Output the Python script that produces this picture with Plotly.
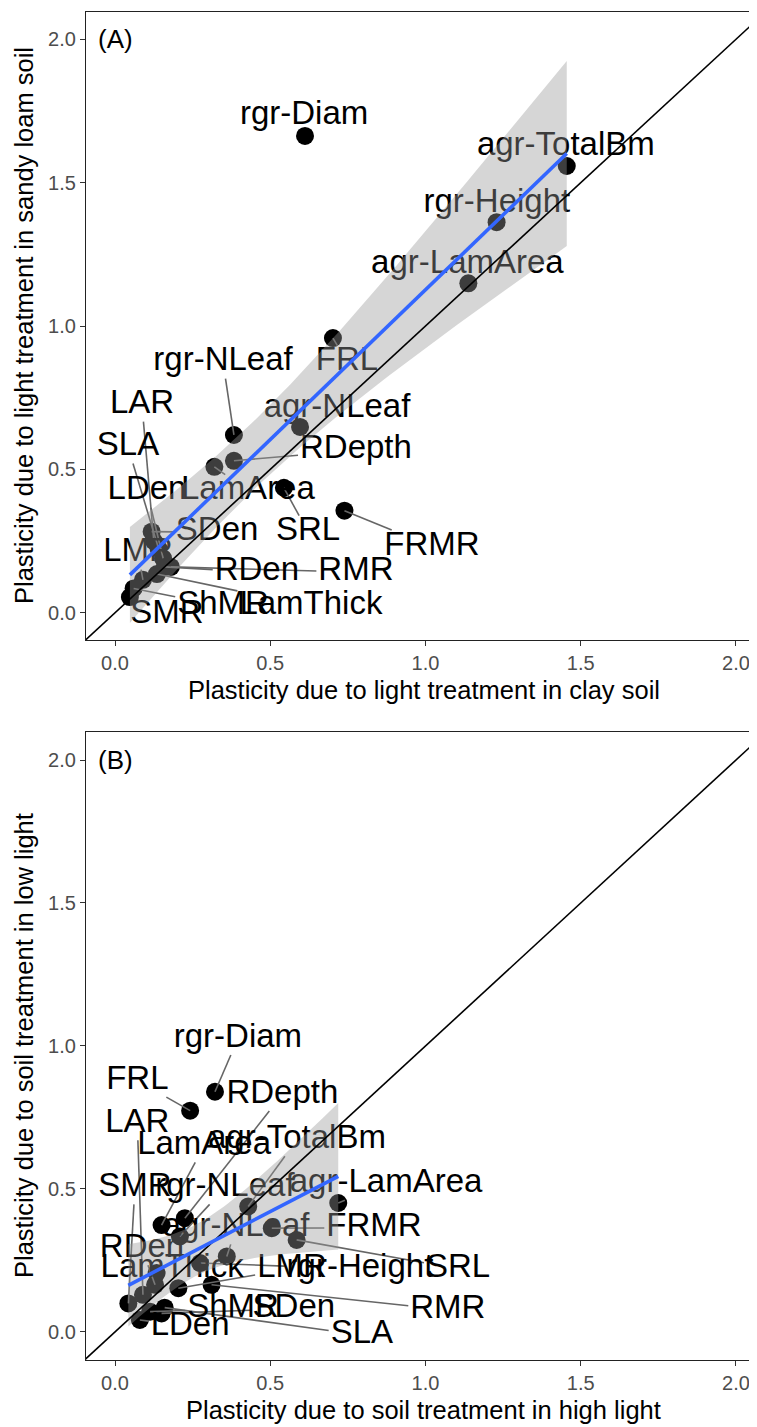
import numpy as np
import plotly.graph_objects as go

# ---------------- data ----------------
traits = ["rgr-Diam", "agr-TotalBm", "rgr-Height", "agr-LamArea", "FRL",
          "rgr-NLeaf", "agr-NLeaf", "RDepth", "LamArea", "SRL", "FRMR",
          "SDen", "LAR", "SLA", "LDen", "RDen", "RMR", "LamThick", "LMR",
          "ShMR", "SMR"]

# Panel A: plasticity due to light treatment
light_clay = [0.612, 1.455, 1.229, 1.138, 0.702, 0.383, 0.596, 0.383, 0.320,
              0.544, 0.739, 0.118, 0.125, 0.140, 0.155, 0.160, 0.180, 0.135,
              0.090, 0.060, 0.048]
light_sandy = [1.663, 1.558, 1.362, 1.149, 0.958, 0.620, 0.648, 0.530, 0.509,
               0.436, 0.356, 0.283, 0.250, 0.225, 0.190, 0.160, 0.160, 0.135,
               0.115, 0.085, 0.055]

# Panel B: plasticity due to soil treatment
soil_high = [0.322, 0.429, 0.274, 0.719, 0.242, 0.209, 0.360, 0.225, 0.150,
             0.585, 0.505, 0.150, 0.090, 0.160, 0.080, 0.129, 0.311, 0.134,
             0.204, 0.113, 0.043]
soil_low = [0.840, 0.439, 0.241, 0.451, 0.774, 0.334, 0.264, 0.398, 0.374,
            0.322, 0.363, 0.065, 0.130, 0.085, 0.042, 0.165, 0.165, 0.206,
            0.153, 0.071, 0.100]

tick_vals = [0.0, 0.5, 1.0, 1.5, 2.0]
tick_text = ["0.0", "0.5", "1.0", "1.5", "2.0"]

# ---------------- layout (label placement as in the repelled reference) ----
LABEL_A = {
    "rgr-Diam": (0.609, 1.732), "agr-TotalBm": (1.452, 1.624),
    "rgr-Height": (1.230, 1.426), "agr-LamArea": (1.135, 1.213),
    "FRL": (0.747, 0.874), "rgr-NLeaf": (0.348, 0.874),
    "agr-NLeaf": (0.715, 0.710), "RDepth": (0.776, 0.567),
    "LamArea": (0.428, 0.424), "SRL": (0.622, 0.281), "FRMR": (1.021, 0.231),
    "SDen": (0.329, 0.281), "LAR": (0.087, 0.724), "SLA": (0.042, 0.578),
    "LDen": (0.103, 0.424), "RDen": (0.457, 0.142), "RMR": (0.776, 0.142),
    "LamThick": (0.631, 0.023), "LMR": (0.074, 0.208),
    "ShMR": (0.348, 0.023), "SMR": (0.167, -0.008),
}
LABEL_B = {
    "rgr-Diam": (0.396, 1.026), "agr-TotalBm": (0.586, 0.672),
    "rgr-Height": (0.789, 0.221), "agr-LamArea": (0.873, 0.518),
    "FRL": (0.072, 0.879), "rgr-NLeaf": (0.354, 0.504),
    "agr-NLeaf": (0.390, 0.364), "RDepth": (0.539, 0.830),
    "LamArea": (0.287, 0.651), "SRL": (1.105, 0.221), "FRMR": (0.834, 0.364),
    "SDen": (0.576, 0.081), "LAR": (0.072, 0.728), "SLA": (0.795, -0.011),
    "LDen": (0.242, 0.018), "RDen": (0.087, 0.291), "RMR": (1.072, 0.077),
    "LamThick": (0.184, 0.221), "LMR": (0.570, 0.221),
    "ShMR": (0.380, 0.081), "SMR": (0.064, 0.504),
}

OFF = 8                      # default page body margin
W, H = 757 - OFF, 1427 - OFF
ML, MR, MT = 86 - OFF, 0, 12 - OFF
PLOT_BOTTOM = 1360 - OFF
MB = H - PLOT_BOTTOM
PW, PH = W - ML - MR, H - MT - MB
DOM_A = [0.5341, 1.0]
DOM_B = [0.0, 0.4661]
XR = [-0.0934, 2.0677]
YRA = [-0.095, 2.095]
YRB = [-0.098, 2.099]

FONT = "Liberation Sans, Arial, sans-serif"
LABEL_SIZE = 33
TICK_SIZE = 20
TITLE_SIZE = 25.5

CW = {'a': 556, 'b': 556, 'c': 500, 'd': 556, 'e': 556, 'f': 278, 'g': 556,
      'h': 556, 'i': 222, 'k': 500, 'l': 222, 'm': 833, 'n': 556, 'o': 556,
      'p': 556, 'r': 333, 's': 500, 't': 278, 'u': 556, 'y': 500,
      'A': 667, 'B': 667, 'D': 722, 'F': 611, 'H': 722, 'L': 556, 'M': 833,
      'N': 722, 'R': 722, 'S': 667, 'T': 611, '-': 333}


def text_width(s, size):
    return sum(CW.get(ch, 556) for ch in s) / 1000.0 * size


kx = PW / (XR[1] - XR[0])


def segments(xs, ys, labels, ky):
    sx, sy = [], []
    for name, px, py in zip(traits, xs, ys):
        lx, ly = labels[name]
        hw = text_width(name, LABEL_SIZE) / 2 + 2
        hh = 0.5 * LABEL_SIZE
        dx = (px - lx) * kx
        dy = (py - ly) * ky
        if abs(dx) <= hw and abs(dy) <= hh:
            continue
        tx = hw / abs(dx) if dx != 0 else np.inf
        ty = hh / abs(dy) if dy != 0 else np.inf
        t = min(tx, ty)
        ex, ey = dx * t, dy * t
        if np.hypot(dx - ex, dy - ey) < 6:
            continue
        sx += [lx + ex / kx, px, None]
        sy += [ly + ey / ky, py, None]
    return sx, sy


def lm_band(x, y):
    x = np.asarray(x, float)
    y = np.asarray(y, float)
    n = len(x)
    b1, b0 = np.polyfit(x, y, 1)
    res = y - (b0 + b1 * x)
    s = np.sqrt(np.sum(res ** 2) / (n - 2))
    grid = np.linspace(x.min(), x.max(), 80)
    fit = b0 + b1 * grid
    se = s * np.sqrt(1.0 / n + (grid - x.mean()) ** 2 / np.sum((x - x.mean()) ** 2))
    tq = 2.093  # t(0.975, df = 19)
    return grid, fit, fit - tq * se, fit + tq * se


fig = go.Figure()


def add_panel(xs, ys, labels, xa, ya, ky):
    fig.add_trace(go.Scatter(x=xs, y=ys, mode="markers", xaxis=xa, yaxis=ya,
                             marker=dict(size=18, color="black", line=dict(width=0)),
                             hoverinfo="skip", showlegend=False))
    sx, sy = segments(xs, ys, labels, ky)
    fig.add_trace(go.Scatter(x=sx, y=sy, mode="lines", xaxis=xa, yaxis=ya,
                             line=dict(color="#666666", width=1.6),
                             hoverinfo="skip", showlegend=False))
    fig.add_trace(go.Scatter(x=[labels[t][0] for t in traits],
                             y=[labels[t][1] for t in traits],
                             text=traits, mode="text", xaxis=xa, yaxis=ya,
                             textposition="middle center",
                             textfont=dict(family=FONT, size=LABEL_SIZE, color="black"),
                             hoverinfo="skip", showlegend=False))
    g, f, lo, hi = lm_band(xs, ys)
    fig.add_trace(go.Scatter(x=list(g) + list(g[::-1]), y=list(hi) + list(lo[::-1]),
                             mode="lines", fill="toself", xaxis=xa, yaxis=ya,
                             fillcolor="rgba(153,153,153,0.4)", line=dict(width=0),
                             hoverinfo="skip", showlegend=False))
    fig.add_trace(go.Scatter(x=[-0.5, 2.5], y=[-0.5, 2.5], mode="lines",
                             xaxis=xa, yaxis=ya, line=dict(color="black", width=1.6),
                             hoverinfo="skip", showlegend=False))
    fig.add_trace(go.Scatter(x=g, y=f, mode="lines", xaxis=xa, yaxis=ya,
                             line=dict(color="#3366FF", width=3.6),
                             hoverinfo="skip", showlegend=False))


kyA = PH * (DOM_A[1] - DOM_A[0]) / (YRA[1] - YRA[0])
kyB = PH * (DOM_B[1] - DOM_B[0]) / (YRB[1] - YRB[0])
add_panel(light_clay, light_sandy, LABEL_A, "x", "y", kyA)
add_panel(soil_high, soil_low, LABEL_B, "x2", "y2", kyB)

axis_common = dict(showgrid=False, zeroline=False, showline=True,
                   linecolor="#222222", linewidth=1.2, ticks="outside",
                   ticklen=5, tickwidth=1.2, tickcolor="#333333",
                   tickvals=tick_vals, ticktext=tick_text,
                   tickfont=dict(family=FONT, size=TICK_SIZE, color="#4D4D4D"),
                   automargin=False, fixedrange=True)

fig.update_layout(
    width=W, height=H, margin=dict(l=ML, r=MR, t=MT, b=MB),
    paper_bgcolor="white", plot_bgcolor="white",
    xaxis=dict(axis_common, range=XR, anchor="y", domain=[0, 1], mirror=True),
    yaxis=dict(axis_common, range=YRA, anchor="x", domain=DOM_A),
    xaxis2=dict(axis_common, range=XR, anchor="y2", domain=[0, 1], mirror=True),
    yaxis2=dict(axis_common, range=YRB, anchor="x2", domain=DOM_B),
)


# helpers: page (viewport) pixel -> paper coordinate
def py_to_paper(py):
    return (MT + PH - (py - OFF)) / PH


def px_to_paper(px):
    return ((px - OFF) - ML) / PW


def title_ann(text, px, py, angle=0):
    return dict(text=text, x=px_to_paper(px), y=py_to_paper(py),
                xref="paper", yref="paper", xanchor="center", yanchor="middle",
                textangle=angle, showarrow=False,
                font=dict(family=FONT, size=TITLE_SIZE, color="black"))


ann = [
    dict(text="(A)", x=0.0, y=2.0, xref="x", yref="y", showarrow=False,
         xanchor="center", yanchor="middle",
         font=dict(family=FONT, size=26, color="black")),
    dict(text="(B)", x=0.0, y=2.0, xref="x2", yref="y2", showarrow=False,
         xanchor="center", yanchor="middle",
         font=dict(family=FONT, size=26, color="black")),
    title_ann("Plasticity due to light treatment in clay soil", 423.5, 690),
    title_ann("Plasticity due to soil treatment in high light", 423.5, 1410),
    title_ann("Plasticity due to light treatment in sandy loam soil", 24, 326, -90),
    title_ann("Plasticity due to soil treatment in low light", 24, 1046, -90),
]
fig.update_layout(annotations=ann)

fig.write_html("out.html")
